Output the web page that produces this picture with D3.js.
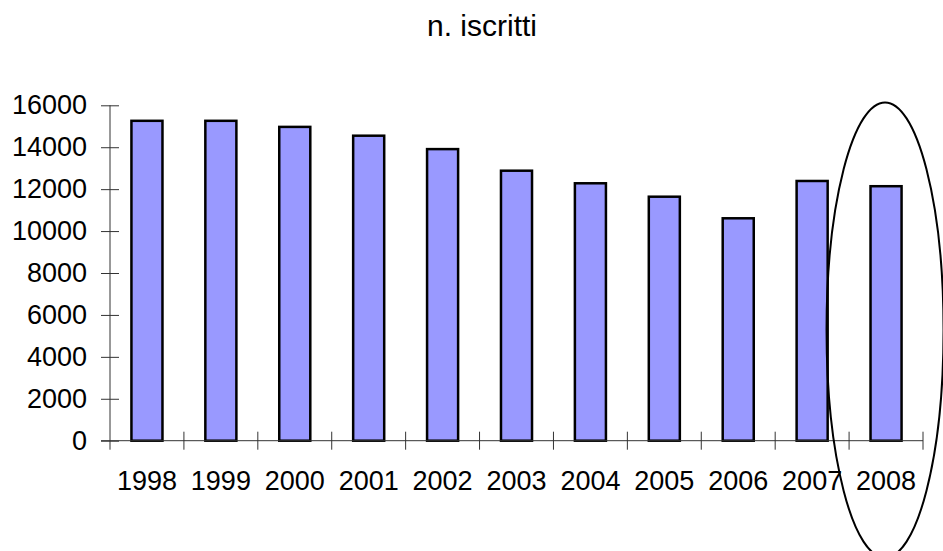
<!DOCTYPE html>
<html>
<head>
<meta charset="utf-8">
<script src="https://cdn.jsdelivr.net/npm/d3@7"></script>
<style>
  body { margin: 0; background: #fff; }
  svg { display: block; font-family: "Liberation Sans", Arial, sans-serif; }
</style>
</head>
<body>
<svg></svg>
<script>
var years = ["1998", "1999", "2000", "2001", "2002", "2003", "2004", "2005", "2006", "2007", "2008"];
var iscritti = [15260, 15260, 14970, 14550, 13910, 12880, 12280, 11640, 10610, 12390, 12140];
var yTicks = [0, 2000, 4000, 6000, 8000, 10000, 12000, 14000, 16000];
var title = "n. iscritti";
var highlight = "2008";

var width = 943, height = 551;
var plotLeft = 110, plotRight = 923, plotTop = 105.3, plotBottom = 440.7;

var svg = d3.select("svg")
    .attr("width", width)
    .attr("height", height);

var x = d3.scaleBand()
    .domain(years)
    .range([plotLeft, plotRight])
    .paddingInner(0.58)
    .paddingOuter(0.29);

var y = d3.scaleLinear()
    .domain([0, 16000])
    .range([plotBottom, plotTop]);

// title
svg.append("text")
    .attr("x", 482)
    .attr("y", 36)
    .attr("text-anchor", "middle")
    .style("font-size", "30px")
    .text(title);

// bars
svg.selectAll("rect.bar")
    .data(years)
    .enter().append("rect")
    .attr("class", "bar")
    .attr("x", (d) => x(d))
    .attr("y", (d, i) => y(iscritti[i]))
    .attr("width", x.bandwidth())
    .attr("height", (d, i) => y(0) - y(iscritti[i]))
    .attr("fill", "#9999ff")
    .attr("stroke", "#000")
    .attr("stroke-width", 2.5);

// y axis, ticks cross the line
var yAxis = svg.append("g")
    .attr("transform", "translate(" + plotLeft + ",0)")
    .call(d3.axisLeft(y).tickValues(yTicks).tickSize(9).tickPadding(14).tickFormat(d3.format("d")));
yAxis.select(".domain").remove();
yAxis.selectAll(".tick line").attr("x1", 9).attr("stroke", "#333");
yAxis.selectAll("text").style("font-size", "27px").attr("fill", "#000");
yAxis.append("line")
    .attr("x1", 0).attr("x2", 0)
    .attr("y1", plotTop).attr("y2", plotBottom + 9)
    .attr("stroke", "#333");

// x axis: labels centered on bands, ticks at the band edges
var xAxis = svg.append("g")
    .attr("transform", "translate(0," + plotBottom + ")")
    .call(d3.axisBottom(x).tickSize(0).tickPadding(30));
xAxis.select(".domain").remove();
xAxis.selectAll("text").style("font-size", "27px").attr("fill", "#000");

xAxis.append("line")
    .attr("x1", plotLeft - 9).attr("x2", plotRight)
    .attr("y1", 0).attr("y2", 0)
    .attr("stroke", "#333");

var edges = d3.range(1, years.length + 1).map((i) => plotLeft + i * x.step());
xAxis.selectAll("line.edge")
    .data(edges)
    .enter().append("line")
    .attr("class", "edge")
    .attr("x1", (d) => d).attr("x2", (d) => d)
    .attr("y1", -9).attr("y2", 9)
    .attr("stroke", "#333");

// ellipse round the last year
var cx = x(highlight) + x.bandwidth() / 2 - 1;
svg.append("ellipse")
    .attr("cx", cx)
    .attr("cy", 330)
    .attr("rx", 58.5)
    .attr("ry", 227.6)
    .attr("fill", "none")
    .attr("stroke", "#000")
    .attr("stroke-width", 2);
</script>
</body>
</html>
